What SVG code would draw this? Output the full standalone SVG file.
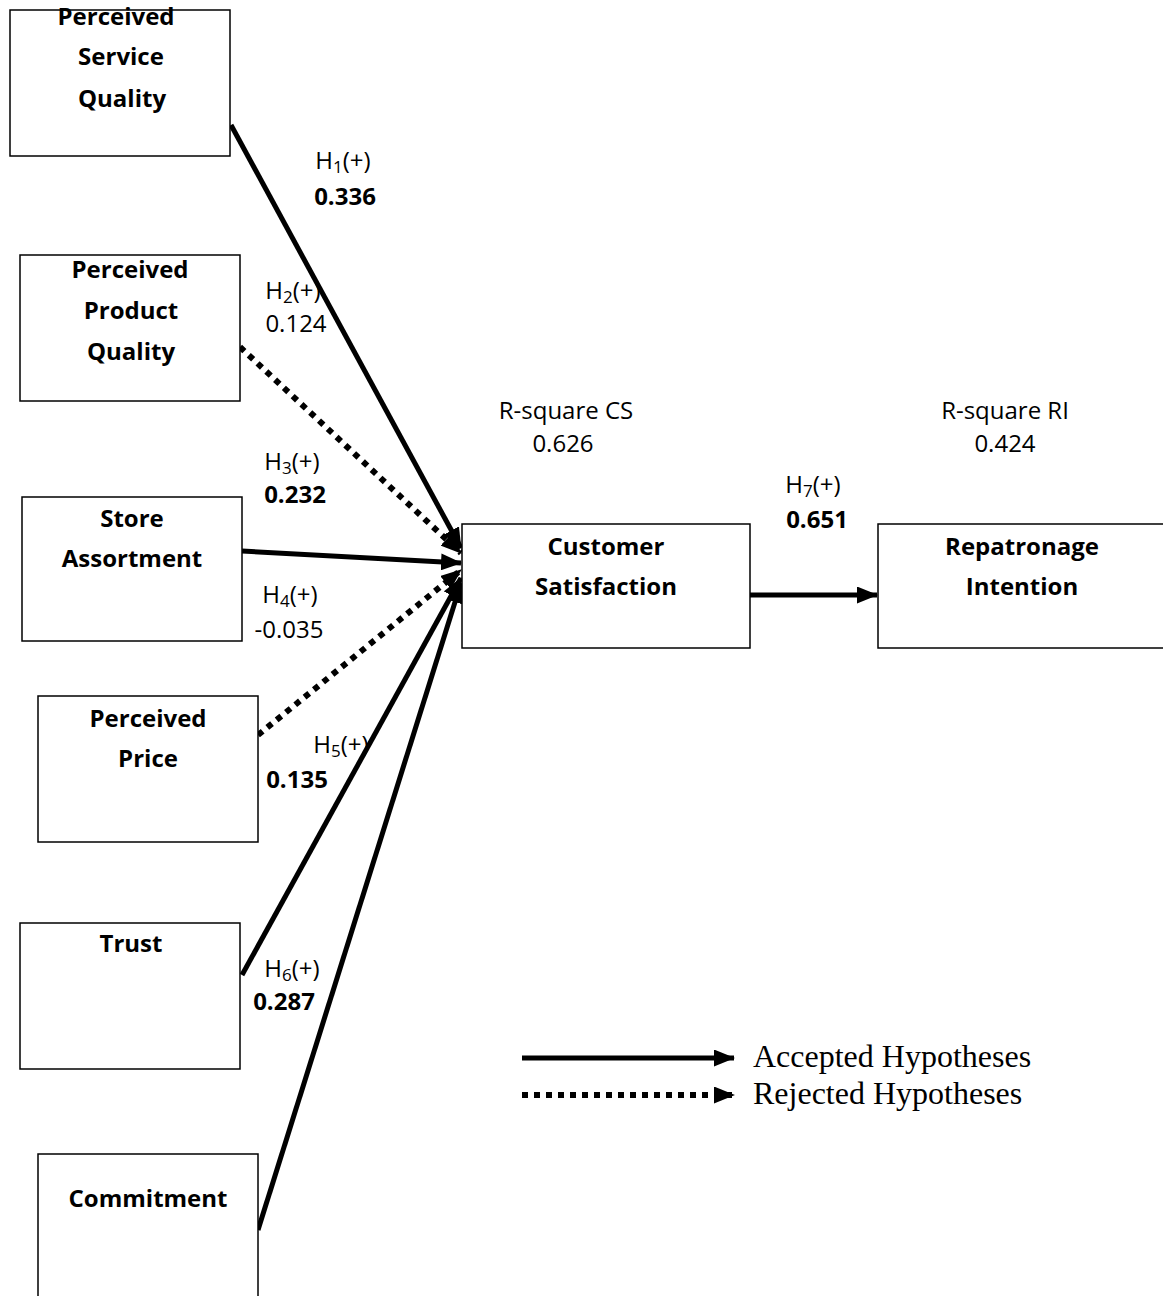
<svg xmlns="http://www.w3.org/2000/svg" width="1163" height="1296" viewBox="0 0 1163 1296">
<style>
.box{fill:#fff;stroke:#000;stroke-width:1.5}
.nt{font-family:"Open Sans",Lato,sans-serif;font-weight:bold;font-size:24px;text-anchor:middle;fill:#000}
.lb{font-family:"Open Sans",Lato,sans-serif;font-size:24px;text-anchor:middle;fill:#000}
.b{font-weight:bold}
.sub{font-size:17px}
.lg{font-family:"Liberation Serif","Times New Roman",serif;font-size:32px;fill:#000}
.sol{stroke:#000;stroke-width:5;fill:none}
.dot{stroke:#000;stroke-width:6;fill:none;stroke-dasharray:6 6}
</style>
<defs>
<marker id="ah" markerUnits="userSpaceOnUse" markerWidth="21" markerHeight="17" refX="20" refY="8.5" orient="auto">
<path d="M0,0 L21,8.5 L0,17 Z" fill="#000"/>
</marker>
</defs>
<g id="connectors">
<line class="sol" x1="231" y1="125" x2="461" y2="548" marker-end="url(#ah)"/>
<line class="dot" x1="240" y1="347" x2="461" y2="553" marker-end="url(#ah)"/>
<line class="sol" x1="242" y1="551" x2="461" y2="563" marker-end="url(#ah)"/>
<line class="dot" x1="258" y1="735" x2="461" y2="570" marker-end="url(#ah)"/>
<line class="sol" x1="242" y1="975" x2="461" y2="578" marker-end="url(#ah)"/>
<line class="sol" x1="258" y1="1230" x2="461" y2="583" marker-end="url(#ah)"/>
<line class="sol" x1="750" y1="595" x2="877" y2="595" marker-end="url(#ah)"/>
</g>
<g id="psq"><rect class="box" x="10" y="10" width="220" height="146"/>
<text class="nt" x="116" y="25">Perceived</text><text class="nt" x="121" y="65">Service</text><text class="nt" x="122" y="107">Quality</text></g>
<g id="ppq"><rect class="box" x="20" y="255" width="220" height="146"/>
<text class="nt" x="130" y="278">Perceived</text><text class="nt" x="131" y="319">Product</text><text class="nt" x="131" y="360">Quality</text></g>
<g id="sa"><rect class="box" x="22" y="497" width="220" height="144"/>
<text class="nt" x="132" y="527">Store</text><text class="nt" x="132" y="567">Assortment</text></g>
<g id="pp"><rect class="box" x="38" y="696" width="220" height="146"/>
<text class="nt" x="148" y="727">Perceived</text><text class="nt" x="148" y="767">Price</text></g>
<g id="trust"><rect class="box" x="20" y="923" width="220" height="146"/>
<text class="nt" x="131" y="952">Trust</text></g>
<g id="commit"><rect class="box" x="38" y="1154" width="220" height="160"/>
<text class="nt" x="148" y="1207">Commitment</text></g>
<g id="cs"><rect class="box" x="462" y="524" width="288" height="124"/>
<text class="nt" x="606" y="555">Customer</text><text class="nt" x="606" y="595">Satisfaction</text></g>
<g id="ri"><rect class="box" x="878" y="524" width="300" height="124"/>
<text class="nt" x="1022" y="555">Repatronage</text><text class="nt" x="1022" y="595">Intention</text></g>
<g id="labels">
<text class="lb" x="343" y="169">H<tspan class="sub" dy="4">1</tspan><tspan dy="-4">(+)</tspan></text>
<text class="lb b" x="345" y="205">0.336</text>
<text class="lb" x="293" y="299">H<tspan class="sub" dy="4">2</tspan><tspan dy="-4">(+)</tspan></text>
<text class="lb" x="296" y="332">0.124</text>
<text class="lb" x="292" y="470">H<tspan class="sub" dy="4">3</tspan><tspan dy="-4">(+)</tspan></text>
<text class="lb b" x="295" y="503">0.232</text>
<text class="lb" x="290" y="603">H<tspan class="sub" dy="4">4</tspan><tspan dy="-4">(+)</tspan></text>
<text class="lb" x="289" y="638">-0.035</text>
<text class="lb" x="341" y="753">H<tspan class="sub" dy="4">5</tspan><tspan dy="-4">(+)</tspan></text>
<text class="lb b" x="297" y="788">0.135</text>
<text class="lb" x="292" y="977">H<tspan class="sub" dy="4">6</tspan><tspan dy="-4">(+)</tspan></text>
<text class="lb b" x="284" y="1010">0.287</text>
<text class="lb" x="813" y="493">H<tspan class="sub" dy="4">7</tspan><tspan dy="-4">(+)</tspan></text>
<text class="lb b" x="817" y="528">0.651</text>
<text class="lb" x="566" y="419">R-square CS</text>
<text class="lb" x="563" y="452">0.626</text>
<text class="lb" x="1005" y="419">R-square RI</text>
<text class="lb" x="1005" y="452">0.424</text>
</g>
<g id="legend">
<line class="sol" x1="522" y1="1058" x2="734" y2="1058" marker-end="url(#ah)"/>
<line class="dot" x1="522" y1="1095" x2="734" y2="1095" marker-end="url(#ah)"/>
<text class="lg" x="753" y="1067">Accepted Hypotheses</text>
<text class="lg" x="753" y="1104">Rejected Hypotheses</text>
</g>
</svg>
